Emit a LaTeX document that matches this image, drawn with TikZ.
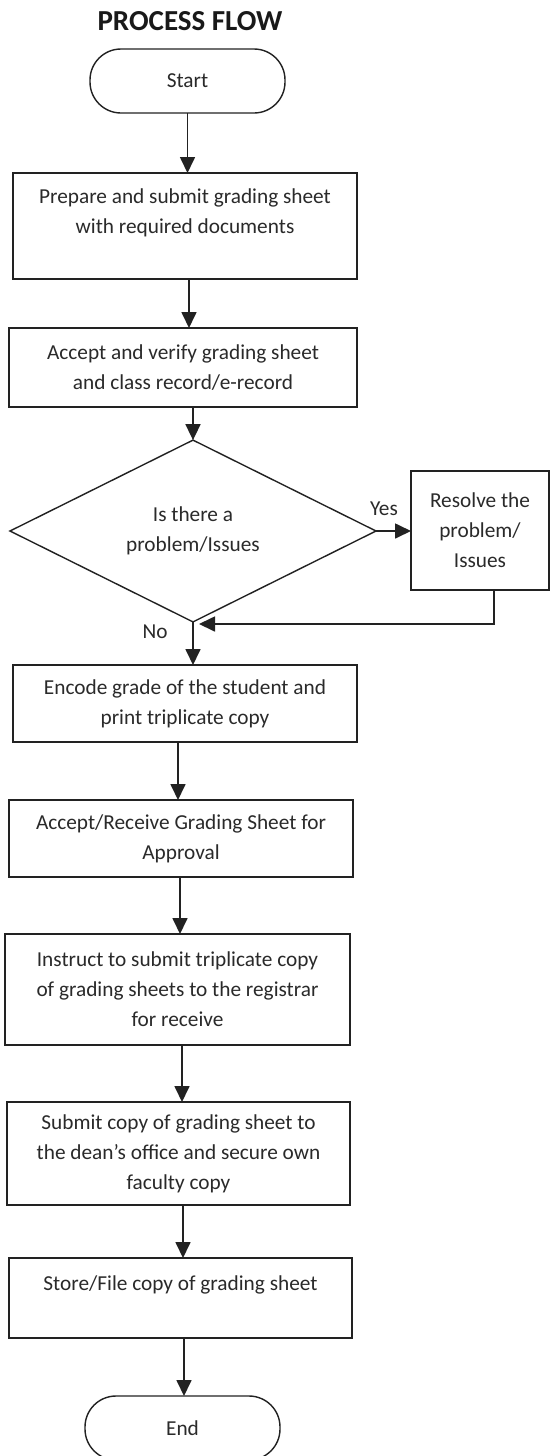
\documentclass[tikz,border=0pt]{standalone}
\usepackage{fontspec}
\setmainfont{Carlito}
\usetikzlibrary{arrows.meta,shapes.geometric,calc}
\definecolor{linec}{HTML}{222222}
\definecolor{textc}{HTML}{2A2A2A}
\newcommand\fsbody{\fontsize{21.3}{30}\selectfont}
\newcommand\fstitle{\fontsize{29}{33}\selectfont\bfseries}
\begin{document}
\begin{tikzpicture}[x=1pt,y=-1pt,
  procbox/.style={draw=linec, line width=1.4pt, inner sep=0pt, outer sep=0pt,
    align=center, font=\fsbody, text=textc},
  termbox/.style={procbox, rounded corners=31pt},
  decbox/.style={procbox, shape=diamond},
  lbl/.style={font=\fsbody, text=textc, inner sep=0pt},
  arr/.style={draw=linec, line width=1.7pt, -{Triangle[length=16pt,width=15pt]}}]
\useasboundingbox (0,0) rectangle (552,1456);
\fill[white] (0,0) rectangle (552,1456);

\node[font=\fstitle, text=black!90, inner sep=0pt] (title) at (190,21) {PROCESS FLOW};

\node[termbox, minimum width=195pt, minimum height=64pt] (start) at (187.5,81) {Start};
\node[procbox, minimum width=344pt, minimum height=106pt] (b1) at (185,226)
  {Prepare and submit grading sheet\\with required documents\\\mbox{}};
\node[procbox, minimum width=348pt, minimum height=79pt] (b2) at (183,367.5)
  {Accept and verify grading sheet\\and class record/e-record};
\node[decbox, minimum width=366pt, minimum height=148pt] (dia) at (193,531)
  {Is there a\\problem/Issues};
\node[procbox, minimum width=138pt, minimum height=119pt] (res) at (480,530.5)
  {Resolve the\\problem/\\Issues};
\node[procbox, minimum width=344pt, minimum height=77pt] (enc) at (185,703.5)
  {Encode grade of the student and\\print triplicate copy};
\node[procbox, minimum width=344pt, minimum height=77pt] (acc) at (181,838.5)
  {Accept/Receive Grading Sheet for\\Approval};
\node[procbox, minimum width=345pt, minimum height=111pt] (ins) at (177.5,989.5)
  {Instruct to submit triplicate copy\\of grading sheets to the registrar\\for receive};
\node[procbox, minimum width=343pt, minimum height=103pt] (sub) at (178.5,1153.5)
  {Submit copy of grading sheet to\\the dean’s office and secure own\\faculty copy};
\node[procbox, minimum width=343pt, minimum height=80pt] (sto) at (180.5,1298)
  {Store/File copy of grading sheet\\\mbox{}};
\node[termbox, minimum width=195pt, minimum height=64pt] (end) at (182.5,1428) {End};

\node[lbl] (yes) at (384,509) {Yes};
\node[lbl] (no) at (155,632) {No};

\coordinate (mrg) at (199,624);

\draw[arr] (start.south) -- (start.south |- b1.north);
\draw[arr] ([xshift=4pt]b1.south) -- ([xshift=4pt]b1.south |- b2.north);
\draw[arr] (dia.north |- b2.south) -- (dia.north);
\draw[arr] (dia.east) -- (dia.east -| res.west);
\draw[arr] (dia.south) -- (dia.south |- enc.north);
\draw[arr] ([xshift=14pt]res.south) |- (mrg);
\draw[arr] ([xshift=-7pt]enc.south) -- ([xshift=-7pt]enc.south |- acc.north);
\draw[arr] ([xshift=-1pt]acc.south) -- ([xshift=-1pt]acc.south |- ins.north);
\draw[arr] ([xshift=4.5pt]ins.south) -- ([xshift=4.5pt]ins.south |- sub.north);
\draw[arr] ([xshift=4.5pt]sub.south) -- ([xshift=4.5pt]sub.south |- sto.north);
\draw[arr] ([xshift=3.5pt]sto.south) -- ([xshift=3.5pt]sto.south |- end.north);
\end{tikzpicture}
\end{document}
